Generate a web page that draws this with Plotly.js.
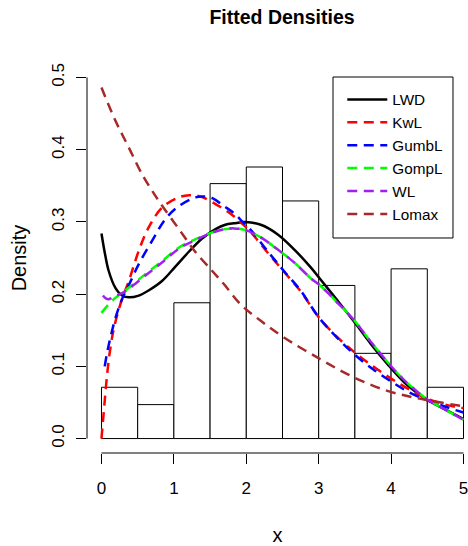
<!DOCTYPE html>
<html>
<head>
<meta charset="utf-8">
<script src="https://cdn.plot.ly/plotly-3.0.1.min.js"></script>
<style>html,body{margin:0;padding:0;background:#fff;}</style>
</head>
<body>
<div id="chart" style="width:468px;height:546px;"></div>
<script>
// Histogram (density scale), bins of width 0.5 on [0,5]
const binLeft = [0, 0.5, 1, 1.5, 2, 2.5, 3, 3.5, 4, 4.5];
const binWidth = 0.5;
const histDensity = [0.071, 0.047, 0.188, 0.353, 0.376, 0.329, 0.212, 0.118, 0.235, 0.071];

// Fitted density curves
const lwdX = [0, 0.05, 0.1, 0.19, 0.285, 0.38, 0.515, 0.65, 0.84, 1.02, 1.21, 1.39, 1.575, 1.71, 1.83, 1.99, 2.2, 2.43, 2.66, 2.89, 3.02, 3.26, 3.48, 3.72, 3.95, 4.18, 4.41, 4.5, 4.73, 5.0];
const lwdY = [0.284, 0.255, 0.232, 0.209, 0.198, 0.1955, 0.198, 0.205, 0.2185, 0.238, 0.259, 0.277, 0.29, 0.296, 0.298, 0.2997, 0.296, 0.283, 0.262, 0.237, 0.221, 0.191, 0.163, 0.131, 0.103, 0.078, 0.0595, 0.0535, 0.041, 0.027];

const kwlX = [0, 0.03, 0.06, 0.09, 0.13, 0.17, 0.22, 0.29, 0.377, 0.515, 0.65, 0.84, 1.07, 1.21, 1.37, 1.62, 1.8, 1.95, 2.06, 2.29, 2.52, 2.75, 3.0, 3.25, 3.5, 3.75, 4.0, 4.25, 4.5, 4.75, 5.0];
const kwlY = [0, 0.035, 0.07, 0.1, 0.13, 0.152, 0.172, 0.195, 0.218, 0.26, 0.292, 0.32, 0.334, 0.337, 0.335, 0.322, 0.31, 0.297, 0.286, 0.258, 0.231, 0.204, 0.168, 0.141, 0.119, 0.1, 0.083, 0.068, 0.055, 0.047, 0.042];

const gumbX = [0.045, 0.08, 0.124, 0.193, 0.28, 0.38, 0.515, 0.7, 0.884, 1.07, 1.3, 1.42, 1.53, 1.69, 1.83, 1.95, 2.06, 2.29, 2.52, 2.75, 3.0, 3.25, 3.5, 3.75, 4.0, 4.25, 4.5, 4.75, 5.0];
const gumbY = [0.1, 0.12, 0.14, 0.167, 0.192, 0.213, 0.2415, 0.274, 0.304, 0.322, 0.334, 0.335, 0.333, 0.322, 0.312, 0.3, 0.289, 0.26, 0.232, 0.205, 0.168, 0.14, 0.116, 0.096, 0.079, 0.064, 0.053, 0.044, 0.036];

const gompX = [0, 0.148, 0.33, 0.61, 0.84, 1.07, 1.3, 1.53, 1.71, 1.83, 1.99, 2.2, 2.43, 2.66, 2.89, 3.02, 3.26, 3.48, 3.72, 3.95, 4.18, 4.41, 4.5, 4.73, 5.0];
const gompY = [0.174, 0.191, 0.205, 0.228, 0.246, 0.2646, 0.276, 0.2855, 0.29, 0.291, 0.2886, 0.2785, 0.262, 0.244, 0.222, 0.212, 0.188, 0.165, 0.134, 0.106, 0.081, 0.061, 0.054, 0.041, 0.026];

const wlX = [0.02, 0.06, 0.1, 0.17, 0.25, 0.33, 0.61, 0.84, 1.07, 1.3, 1.53, 1.71, 1.83, 1.99, 2.2, 2.43, 2.66, 2.89, 3.02, 3.26, 3.48, 3.72, 3.95, 4.18, 4.41, 4.5, 4.73, 5.0];
const wlY = [0.198, 0.194, 0.193, 0.196, 0.2, 0.204, 0.226, 0.244, 0.263, 0.275, 0.285, 0.29, 0.291, 0.2886, 0.2785, 0.262, 0.244, 0.222, 0.212, 0.188, 0.165, 0.134, 0.106, 0.081, 0.061, 0.054, 0.041, 0.026];

const lomaxX = [0, 0.193, 0.377, 0.56, 0.7, 0.84, 1.07, 1.3, 1.53, 1.69, 1.92, 2.2, 2.52, 3.02, 3.48, 3.95, 4.41, 5.0];
const lomaxY = [0.486, 0.44, 0.403, 0.366, 0.343, 0.322, 0.29, 0.258, 0.232, 0.214, 0.186, 0.163, 0.14, 0.11, 0.085, 0.066, 0.055, 0.0447];

const seriesNames = ['LWD', 'KwL', 'GumbL', 'GompL', 'WL', 'Lomax'];
const seriesColors = ['black', '#ff0000', '#0000ff', '#00ff00', '#a020f0', '#a52a2a'];
const yTicks = [0, 0.1, 0.2, 0.3, 0.4, 0.5];
const xTicks = [0, 1, 2, 3, 4, 5];

const curveX = [lwdX, kwlX, gumbX, gompX, wlX, lomaxX];
const curveY = [lwdY, kwlY, gumbY, gompY, wlY, lomaxY];

const traces = [{
  type: 'bar',
  x: binLeft.map(b => b + binWidth / 2),
  y: histDensity,
  width: binWidth,
  marker: {color: 'white', line: {color: 'black', width: 1}},
  showlegend: false,
  hoverinfo: 'skip'
}];
seriesNames.forEach((name, i) => {
  traces.push({
    type: 'scatter', mode: 'lines',
    name: name,
    x: curveX[i], y: curveY[i],
    line: {color: seriesColors[i], width: 2.5, shape: 'spline', smoothing: 1,
           dash: i === 0 ? 'solid' : '10px,6.5px'}
  });
});

const layout = {
  width: 468, height: 546,
  margin: {l: 87, r: 0, t: 63, b: 93, autoexpand: false},
  paper_bgcolor: 'white', plot_bgcolor: 'white',
  font: {family: 'Liberation Sans, Arial, sans-serif', size: 17, color: 'black'},
  title: {text: '<b>Fitted Densities</b>', font: {size: 19.5, color: 'black'},
          x: 0.6026, xref: 'container', xanchor: 'center', y: 0.969, yref: 'container', yanchor: 'middle'},
  bargap: 0,
  xaxis: {range: [-0.2, 5.062], tickvals: xTicks, ticks: 'outside', ticklen: 10, tickcolor: 'black', tickwidth: 1,
          ticklabelstandoff: 10, ticklabeloverflow: 'allow',
          showgrid: false, zeroline: false, showline: false, fixedrange: true,
          title: {text: 'x', standoff: 33}},
  yaxis: {range: [-0.02, 0.52], tickvals: yTicks, tickformat: '.1f', tickangle: -90, ticks: 'outside', ticklen: 10,
          ticklabelstandoff: 5,
          tickcolor: 'black', tickwidth: 1, showgrid: false, zeroline: false, showline: false, fixedrange: true,
          title: {text: 'Density', standoff: 17}},
  showlegend: true,
  legend: {x: 0.67, y: 0.9487, xanchor: 'left', yanchor: 'top', borderwidth: 0,
           bgcolor: 'rgba(0,0,0,0)', font: {size: 15.3}, traceorder: 'normal', itemwidth: 40},
  shapes: [
    {type: 'line', xref: 'x', yref: 'paper', x0: xTicks[0], x1: xTicks[xTicks.length - 1], y0: 0, y1: 0,
     line: {color: 'black', width: 1}},
    {type: 'line', xref: 'paper', yref: 'y', x0: 0, x1: 0, y0: yTicks[0], y1: yTicks[yTicks.length - 1],
     line: {color: 'black', width: 1}},
    {type: 'rect', xref: 'paper', yref: 'paper', x0: 0.6457, x1: 0.9606, y0: 0.5513, y1: 0.9641,
     fillcolor: 'white', layer: 'above', line: {color: 'black', width: 1}}
  ]
};

Plotly.newPlot('chart', traces, layout, {displayModeBar: false, staticPlot: true});
</script>
</body>
</html>
